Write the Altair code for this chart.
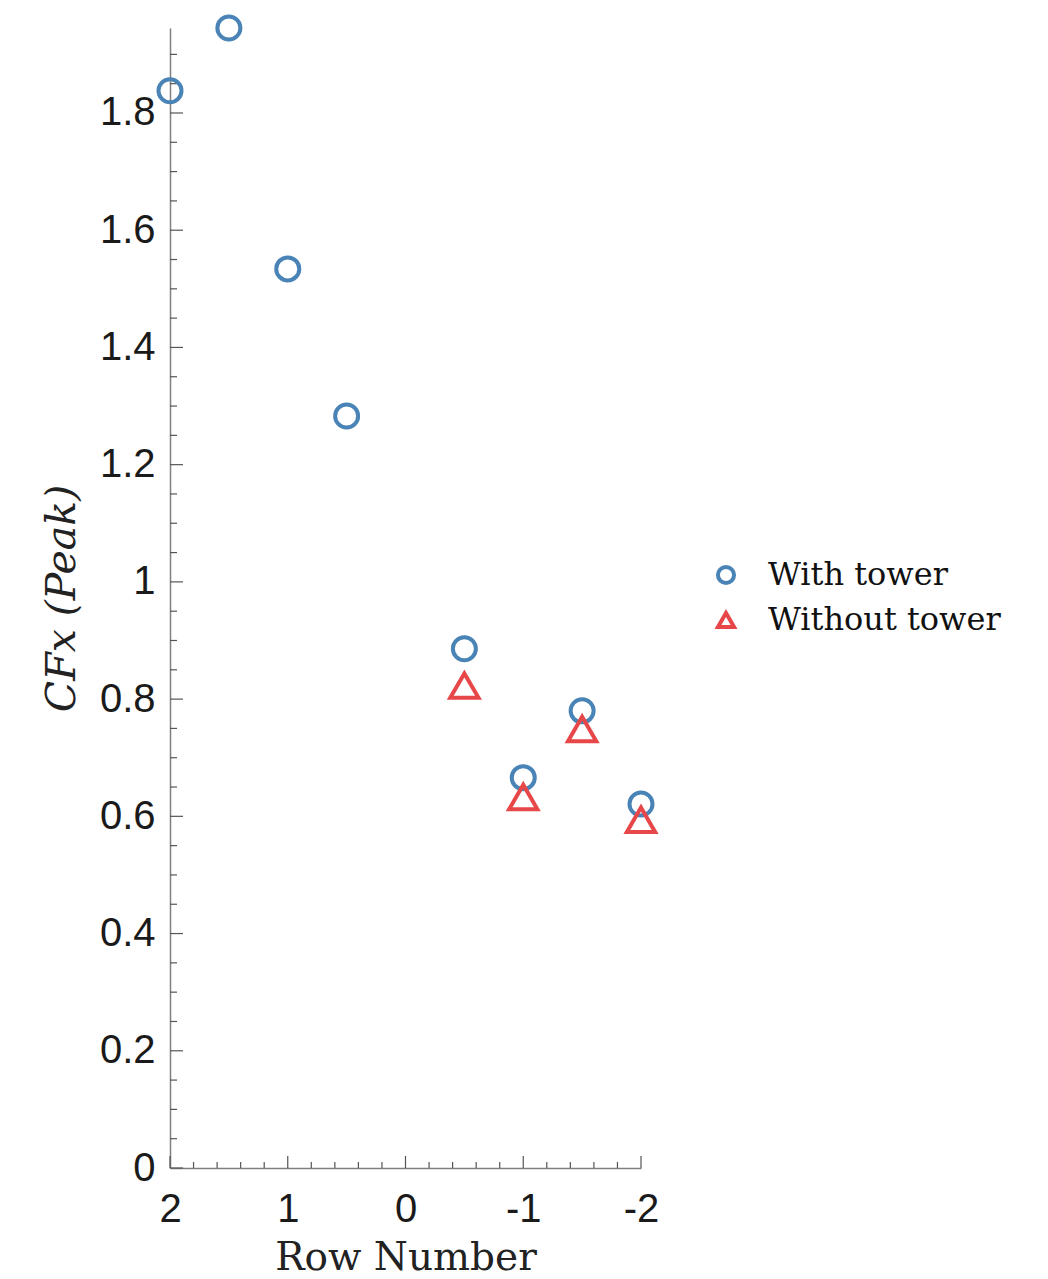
import altair as alt
import pandas as pd

# ---- data ----
series_names = ["With tower", "Without tower"]
rows_with = [2, 1.5, 1, 0.5, -0.5, -1, -1.5, -2]
cfx_with = [1.838, 1.945, 1.534, 1.283, 0.886, 0.666, 0.780, 0.621]
rows_without = [-0.5, -1, -1.5, -2]
cfx_without = [0.823, 0.633, 0.749, 0.594]

x_major = [2, 1, 0, -1, -2]
x_minor = [1.8, 1.6, 1.4, 1.2, 0.8, 0.6, 0.4, 0.2,
           -0.2, -0.4, -0.6, -0.8, -1.2, -1.4, -1.6, -1.8]
y_major = [0, 0.2, 0.4, 0.6, 0.8, 1, 1.2, 1.4, 1.6, 1.8]
y_minor = [0.05, 0.1, 0.15, 0.25, 0.3, 0.35, 0.45, 0.5, 0.55, 0.65, 0.7, 0.75,
           0.85, 0.9, 0.95, 1.05, 1.1, 1.15, 1.25, 1.3, 1.35, 1.45, 1.5, 1.55,
           1.65, 1.7, 1.75, 1.85, 1.9]

colors = ["#4a84b6", "#e8474a"]
shapes = ["circle", "triangle-up"]

W, H = 471, 1140

df_with = pd.DataFrame({"row": rows_with, "val": cfx_with, "series": series_names[0]})
df_without = pd.DataFrame({"row": rows_without, "val": cfx_without, "series": series_names[1]})

x_scale = alt.Scale(domain=[2, -2], nice=False, zero=False)
y_scale = alt.Scale(domain=[0, 1.945], nice=False, zero=False)

x_axis = alt.Axis(
    values=x_major, labelExpr="'' + datum.value", ticks=False, tickSize=0, grid=False,
    domainColor="#808080", domainWidth=1.5, labelFont="Liberation Sans", labelFontSize=40,
    labelColor="#1a1a1a", labelPadding=21, labelFlush=False, labelOverlap=False,
    title="Row Number", titleFont="DejaVu Serif", titleFontSize=39, titleFontWeight="normal",
    titleColor="#222222", titlePadding=9,
)
y_axis = alt.Axis(
    values=y_major, labelExpr="'' + datum.value", ticks=False, tickSize=0, grid=False,
    domainColor="#808080", domainWidth=1.5, labelFont="Liberation Sans", labelFontSize=40,
    labelColor="#1a1a1a", labelPadding=15, labelFlush=False, labelOverlap=False,
    title="CFx (Peak)", titleFont="DejaVu Serif", titleFontSize=41, titleFontStyle="italic",
    titleFontWeight="normal", titleColor="#222222", titlePadding=16,
)

X = alt.X("row:Q", scale=x_scale, axis=x_axis)
Y = alt.Y("val:Q", scale=y_scale, axis=y_axis)

legend = alt.Legend(
    title=None, orient="none", legendX=540, legendY=531, padding=0,
    labelFont="DejaVu Serif", labelFontSize=32, labelColor="#111111", labelLimit=500,
    labelOffset=26, rowPadding=12, symbolStrokeWidth=4, symbolSize=260,
)
color = alt.Color("series:N", scale=alt.Scale(domain=series_names, range=colors), legend=legend)
shape = alt.Shape("series:N", scale=alt.Scale(domain=series_names, range=shapes), legend=legend)

circles = alt.Chart(df_with).mark_point(filled=False, strokeWidth=4, opacity=1, size=530).encode(
    x=X, y=Y, color=color, shape=shape)
triangles = alt.Chart(df_without).mark_point(filled=False, strokeWidth=4, opacity=1, size=800).encode(
    x=X, y=Y, color=color, shape=shape)

tick_color = "#555555"
x_major_ticks = alt.Chart(pd.DataFrame({"row": x_major})).mark_rule(color=tick_color, strokeWidth=1.2).encode(
    x=X, y=alt.value(H), y2=alt.value(H - 12))
x_minor_ticks = alt.Chart(pd.DataFrame({"row": x_minor})).mark_rule(color=tick_color, strokeWidth=1.2).encode(
    x=X, y=alt.value(H), y2=alt.value(H - 6))
y_major_ticks = alt.Chart(pd.DataFrame({"val": y_major})).mark_rule(color=tick_color, strokeWidth=1.2).encode(
    y=Y, x=alt.value(0), x2=alt.value(13))
y_minor_ticks = alt.Chart(pd.DataFrame({"val": y_minor})).mark_rule(color=tick_color, strokeWidth=1.2).encode(
    y=Y, x=alt.value(0), x2=alt.value(7))

chart = alt.layer(
    x_major_ticks, x_minor_ticks, y_major_ticks, y_minor_ticks, circles, triangles
).properties(
    width=W, height=H,
    autosize=alt.AutoSizeParams(type="none"),
    padding={"left": 170, "top": 28, "right": 1048 - 170 - W, "bottom": 1279 - 28 - H},
    background="white",
).configure_view(stroke=None)

chart.save("out.html", embed_options={"renderer": "svg", "actions": False})
